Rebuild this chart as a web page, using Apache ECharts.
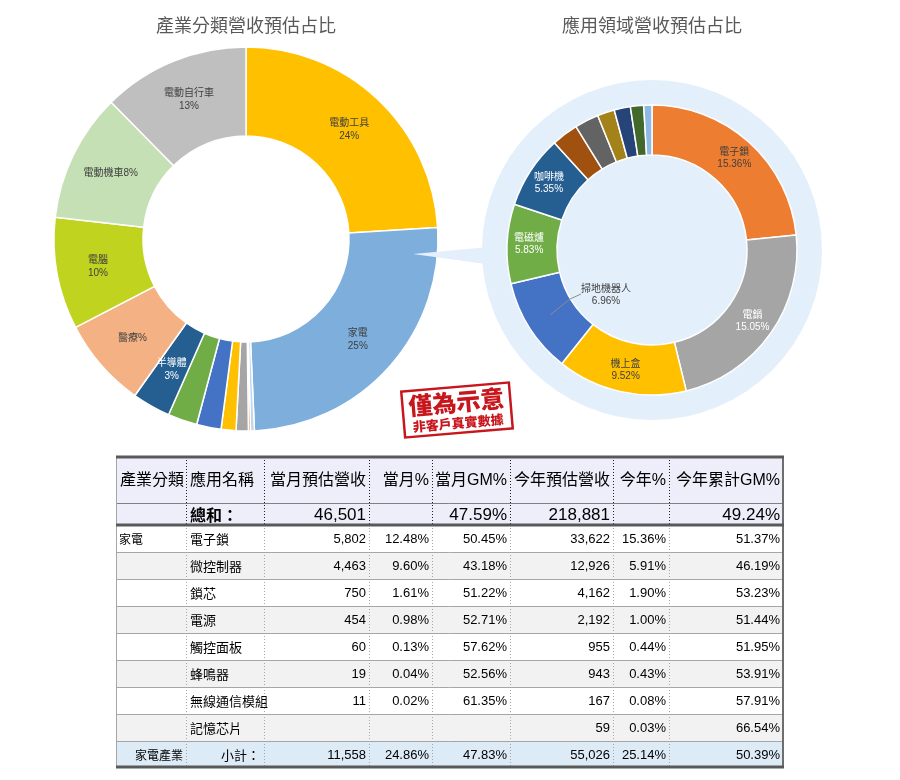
<!DOCTYPE html>
<html><head><meta charset="utf-8">
<script src="https://cdn.jsdelivr.net/npm/echarts@6/dist/echarts.min.js"></script>
<style>html,body{margin:0;padding:0;background:#fff}#c{width:900px;height:780px}</style>
</head><body><div id="c"></div>
<script>
// ---------- DATA ----------
const leftTitle = '產業分類營收預估占比';
const rightTitle = '應用領域營收預估占比';

const leftNames  = ['電動工具','家電','其他A','其他B','其他C','其他D','其他E','其他F','半導體','醫療','電腦','電動機車','電動自行車'];
const leftValues = [24.06, 25.25, 0.33, 0.17, 1.03, 1.25, 2.06, 2.47, 3.22, 7.56, 9.42, 10.81, 12.39];
const leftLabels = ['電動工具\n24%','家電\n25%','','','','','','','半導體\n3%','醫療%','電腦\n10%','電動機車8%','電動自行車\n13%'];

const rightNames  = ['電子鎖','電鍋','機上盒','掃地機器人','電磁爐','咖啡機','其他1','其他2','其他3','其他4','其他5','其他6'];
const rightValues = [15.36, 15.05, 9.52, 6.96, 5.83, 5.35, 1.96, 1.76, 1.26, 1.19, 0.97, 0.60];
const rightShowLabel = [true, true, true, true, true, true, false, false, false, false, false, false];

const tableHeaders = ['產業分類','應用名稱','當月預估營收','當月%','當月GM%','今年預估營收','今年%','今年累計GM%'];
const totalLabel = '總和：';
const totalMonthRevenue = 46501;
const totalMonthGM = 47.59;
const totalYearRevenue = 218881;
const totalYearGM = 49.24;
const categoryName = '家電';
const appNames     = ['電子鎖','微控制器','鎖芯','電源','觸控面板','蜂鳴器','無線通信模組','記憶芯片'];
const monthRevenue = [5802, 4463, 750, 454, 60, 19, 11, null];
const monthPct     = [12.48, 9.60, 1.61, 0.98, 0.13, 0.04, 0.02, null];
const monthGM      = [50.45, 43.18, 51.22, 52.71, 57.62, 52.56, 61.35, null];
const yearRevenue  = [33622, 12926, 4162, 2192, 955, 943, 167, 59];
const yearPct      = [15.36, 5.91, 1.90, 1.00, 0.44, 0.43, 0.08, 0.03];
const yearGM       = [51.37, 46.19, 53.23, 51.44, 51.95, 53.91, 57.91, 66.54];
const subtotalCategory = '家電產業';
const subtotalLabel = '小計：';
const subtotalValues = [11558, 24.86, 47.83, 55026, 25.14, 50.39];

const stampMain = '僅為示意';
const stampSub = '非客戶真實數據';

// ---------- STYLES ----------
const leftColors = ['#FFC000','#7DAEDC','#BDD7EE','#ED7D31','#A5A5A5','#FFC000','#4472C4','#70AD47','#255E91','#F4B183','#C0D31F','#C5E0B4','#BFBFBF'];
const leftLabelColors = ['#404040','#404040','#404040','#404040','#404040','#404040','#404040','#404040','#FFFFFF','#404040','#404040','#404040','#404040'];
const rightColors = ['#ED7D31','#A5A5A5','#FFC000','#4472C4','#70AD47','#255E91','#A0500F','#636363','#A3821A','#264478','#43682B','#8DBAE4'];
const rightLabelColors = ['#404040','#FFFFFF','#404040','#404040','#FFFFFF','#FFFFFF','#404040','#404040','#404040','#404040','#404040','#404040'];

const CJK = '"Noto Sans CJK TC"';
const MIX = '"Liberation Sans", "Noto Sans CJK TC"';

const LC = [246, 239], LR = [103, 192];
const RC = [652, 250], RR = [95, 145];
const bgR = 170;

// ---------- TABLE ----------
const colX = [116, 186, 264, 369, 432, 510, 613, 669, 783];
const tTop = 457, hdrBot = 503, sumBot = 525, rowH = 27;
const subTop = sumBot + appNames.length * rowH;
const subBot = subTop + 26;
const fmtInt = v => v == null ? '' : v.toLocaleString('en-US');
const fmtPct = v => v == null ? '' : v.toFixed(2) + '%';

function txt(x, y, s, font, align, color) {
  return { type: 'text', x: x, y: y, z: 30, silent: true,
    style: { text: s, font: font, fill: color || '#000', align: align, textAlign: align,
             verticalAlign: 'middle', textVerticalAlign: 'middle' } };
}
function line(x1, y1, x2, y2, color, w, dash) {
  return { type: 'line', z: 25, silent: true, shape: { x1, y1, x2, y2 },
    style: { stroke: color, lineWidth: w, lineDash: dash || null } };
}
function rect(x, y, w, h, fill) {
  return { type: 'rect', z: 20, silent: true, shape: { x, y, width: w, height: h }, style: { fill } };
}

const tableEls = [];
const W = colX[8] - colX[0];
tableEls.push(rect(colX[0], tTop, W, sumBot - tTop, '#EEEEFA'));
appNames.forEach((n, i) => { if (i % 2 === 1) tableEls.push(rect(colX[0], sumBot + i * rowH, W, rowH, '#F2F2F2')); });
tableEls.push(rect(colX[0], subTop, W, subBot - subTop, '#DDEBF7'));
for (let i = 1; i <= appNames.length; i++) tableEls.push(line(colX[0], sumBot + i * rowH + 0.5, colX[8], sumBot + i * rowH + 0.5, '#A6A6A6', 1));
tableEls.push(line(colX[0], hdrBot + 0.5, colX[8], hdrBot + 0.5, '#808080', 1));
for (let c = 1; c < 8; c++) {
  tableEls.push(line(colX[c] + 0.5, tTop, colX[c] + 0.5, sumBot, '#222', 1, [1, 2]));
  tableEls.push(line(colX[c] + 0.5, sumBot, colX[c] + 0.5, subBot, '#A6A6A6', 1, [1, 2]));
}
tableEls.push(line(colX[0] + 0.5, tTop, colX[0] + 0.5, subBot, '#A6A6A6', 1));
tableEls.push(line(colX[8], tTop, colX[8], subBot, '#6E6E6E', 2));
tableEls.push(line(colX[0], tTop, colX[8] + 1, tTop, '#595959', 3));
tableEls.push(line(colX[0], sumBot, colX[8] + 1, sumBot, '#595959', 3));
tableEls.push(line(colX[0], subBot, colX[8] + 1, subBot, '#595959', 3));
const hy = (tTop + hdrBot) / 2 + 1;
tableHeaders.forEach((h, i) => {
  if (i < 2) tableEls.push(txt(colX[i] + 4, hy, h, '16px ' + MIX, 'left'));
  else tableEls.push(txt(colX[i + 1] - 3, hy, h, '16px ' + MIX, 'right'));
});
const sy = (hdrBot + sumBot) / 2 + 1;
tableEls.push(txt(colX[1] + 4, sy, totalLabel, 'bold 16px ' + CJK, 'left'));
tableEls.push(txt(colX[3] - 3, sy, fmtInt(totalMonthRevenue), '17px ' + MIX, 'right'));
tableEls.push(txt(colX[5] - 3, sy, fmtPct(totalMonthGM), '17px ' + MIX, 'right'));
tableEls.push(txt(colX[6] - 3, sy, fmtInt(totalYearRevenue), '17px ' + MIX, 'right'));
tableEls.push(txt(colX[8] - 3, sy, fmtPct(totalYearGM), '17px ' + MIX, 'right'));
appNames.forEach((n, i) => {
  const y = sumBot + i * rowH + rowH / 2 + 1;
  if (i === 0) tableEls.push(txt(colX[0] + 3, y, categoryName, '12px ' + CJK, 'left'));
  tableEls.push(txt(colX[1] + 4, y, n, '13px ' + CJK, 'left'));
  const vals = [fmtInt(monthRevenue[i]), fmtPct(monthPct[i]), fmtPct(monthGM[i]), fmtInt(yearRevenue[i]), fmtPct(yearPct[i]), fmtPct(yearGM[i])];
  vals.forEach((v, k) => tableEls.push(txt(colX[k + 3] - 3, y, v, '13px ' + MIX, 'right')));
});
const uy = (subTop + subBot) / 2 + 1;
tableEls.push(txt(colX[1] - 3, uy, subtotalCategory, '12px ' + CJK, 'right'));
tableEls.push(txt(colX[2] - 4, uy, subtotalLabel, '13px ' + CJK, 'right'));
subtotalValues.forEach((v, k) => {
  const s = (k === 0 || k === 3) ? fmtInt(v) : fmtPct(v);
  tableEls.push(txt(colX[k + 3] - 3, uy, s, '13px ' + MIX, 'right'));
});

// ---------- LEADER LINE for 掃地機器人 ----------
const rightTotal = rightValues.reduce((a, b) => a + b, 0);
function rightMidAngle(idx) {
  let before = 0;
  for (let i = 0; i < idx; i++) before += rightValues[i];
  return (before + rightValues[idx] / 2) / rightTotal * Math.PI * 2;
}
const leadIdx = 3;
const leadA = rightMidAngle(leadIdx);
const leadR = (RR[0] + RR[1]) / 2 + 1;
const leadPts = [
  [RC[0] + leadR * Math.sin(leadA), RC[1] - leadR * Math.cos(leadA)],
  [RC[0] - 82, RC[1] + 49],
  [RC[0] - 71, RC[1] + 44]
];

// ---------- DECOR ----------
const decor = [
  { type: 'circle', z: -1, silent: true, shape: { cx: RC[0], cy: RC[1], r: bgR }, style: { fill: '#E3EFFA' } },
  { type: 'polygon', z: 10, silent: true, shape: { points: [[413, 254], [500, 246], [500, 266]] }, style: { fill: '#E3EFFA' } },
  { type: 'polyline', z: 50, silent: true, shape: { points: leadPts }, style: { stroke: '#8C8C8C', lineWidth: 1, fill: null } },
  txt(LC[0], 25, leftTitle, '18px ' + CJK, 'center', '#595959'),
  txt(RC[0], 25, rightTitle, '18px ' + CJK, 'center', '#595959'),
  { type: 'group', x: 457, y: 410, rotation: 0.085, z: 40, silent: true, children: [
    { type: 'rect', z: 40, shape: { x: -54, y: -23, width: 108, height: 46 }, style: { fill: 'rgba(255,255,255,0.6)', stroke: '#C8161D', lineWidth: 2.5 } },
    { type: 'text', z: 41, x: 0, y: -8, style: { text: stampMain, font: '900 24px ' + CJK, fill: '#C8161D', align: 'center', textAlign: 'center', verticalAlign: 'middle', textVerticalAlign: 'middle' } },
    { type: 'text', z: 41, x: 0, y: 13, style: { text: stampSub, font: '900 13px ' + CJK, fill: '#C8161D', align: 'center', textAlign: 'center', verticalAlign: 'middle', textVerticalAlign: 'middle' } }
  ]}
];

// ---------- CHART ----------
const chart = echarts.init(document.getElementById('c'), null, { renderer: 'canvas' });

chart.setOption({
  animation: false,
  graphic: { elements: decor.concat(tableEls) },
  series: [
    {
      type: 'pie', center: LC, radius: LR, startAngle: 90, clockwise: true,
      avoidLabelOverlap: false, silent: true, emphasis: { disabled: true },
      itemStyle: { borderColor: '#fff', borderWidth: 1.5 },
      label: { show: true, position: 'inside', fontSize: 10, lineHeight: 13, fontFamily: MIX,
               formatter: p => leftLabels[p.dataIndex] },
      labelLine: { show: false },
      data: leftNames.map((n, i) => ({ name: n, value: leftValues[i],
        itemStyle: { color: leftColors[i] }, label: { color: leftLabelColors[i] } }))
    },
    {
      type: 'pie', center: RC, radius: RR, startAngle: 90, clockwise: true,
      avoidLabelOverlap: false, silent: true, emphasis: { disabled: true },
      itemStyle: { borderColor: '#fff', borderWidth: 1.5 },
      label: { show: true, position: 'inside', fontSize: 10, lineHeight: 12, fontFamily: MIX,
               formatter: p => rightShowLabel[p.dataIndex] ? p.name + '\n' + p.value.toFixed(2) + '%' : '' },
      labelLine: { show: false },
      labelLayout: function (p) {
        if (p.dataIndex !== leadIdx) return {};
        return { x: RC[0] - 46, y: RC[1] + 45, align: 'center', verticalAlign: 'middle' };
      },
      data: rightNames.map((n, i) => {
        const d = { name: n, value: rightValues[i], itemStyle: { color: rightColors[i] }, label: { color: rightLabelColors[i] } };
        if (i === leadIdx) {
          d.label = { color: '#404040', position: 'outside' };
          d.labelLine = { show: false };
        }
        return d;
      })
    }
  ]
});
</script>
</body></html>
